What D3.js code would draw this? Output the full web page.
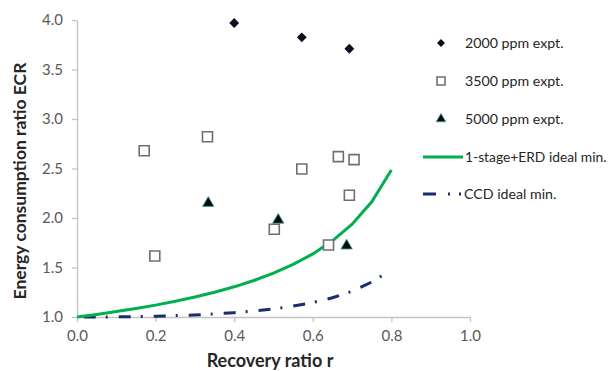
<!DOCTYPE html>
<html>
<head>
<meta charset="utf-8">
<script src="https://cdn.jsdelivr.net/npm/d3@7"></script>
<style>
  body { margin: 0; background: #fff; }
  svg { display: block; font-family: Lato, "Open Sans", sans-serif; }
</style>
</head>
<body>
<div id="chart"></div>
<script>
// experiments (recovery ratio r, ECR)
const r2000 = [0.40, 0.572, 0.693]
const ecr2000 = [3.97, 3.825, 3.71]
const r3500 = [0.171, 0.198, 0.332, 0.502, 0.572, 0.640, 0.665, 0.693, 0.705]
const ecr3500 = [2.68, 1.616, 2.82, 1.886, 2.495, 1.727, 2.62, 2.23, 2.59]
const r5000 = [0.334, 0.512, 0.686]
const ecr5000 = [2.15, 1.98, 1.72]

// ideal minimum curves
const rErd = [0, 0.05, 0.1, 0.15, 0.2, 0.25, 0.3, 0.35, 0.4, 0.45, 0.5, 0.55, 0.6, 0.65, 0.7, 0.75, 0.8]
const ecrErd = [1.0, 1.026, 1.055, 1.086, 1.120, 1.159, 1.202, 1.250, 1.305, 1.369, 1.443, 1.531, 1.637, 1.769, 1.938, 2.164, 2.485]
const rCcd = [0, 0.05, 0.1, 0.15, 0.2, 0.25, 0.3, 0.35, 0.4, 0.45, 0.5, 0.55, 0.6, 0.65, 0.7, 0.75, 0.775]
const ecrCcd = [1.0, 1.000, 1.002, 1.004, 1.008, 1.014, 1.021, 1.031, 1.044, 1.061, 1.082, 1.110, 1.146, 1.194, 1.260, 1.353, 1.414]

const xTicks = [0, 0.2, 0.4, 0.6, 0.8, 1.0]
const yTicks = [1.0, 1.5, 2.0, 2.5, 3.0, 3.5, 4.0]
const legendLabels = ['2000 ppm expt.', '3500 ppm expt.', '5000 ppm expt.', '1-stage+ERD ideal min.', 'CCD ideal min.']

const W = 610, H = 371
const svg = d3.select('#chart').append('svg').attr('width', W).attr('height', H)

const x = d3.scaleLinear().domain([0, 1]).range([77, 470])
const y = d3.scaleLinear().domain([1, 4]).range([317, 20])

const AXIS = '#c4c4c4'
const TICK_TXT = '#595959'
const GREEN = '#00b050'
const NAVY = '#1a2c6b'

// Axes
const gx = svg.append('g').attr('transform', `translate(0,${y(1)})`)
  .call(d3.axisBottom(x).tickValues(xTicks).tickFormat(d3.format('.1f')).tickSize(5).tickSizeOuter(0))
const gy = svg.append('g').attr('transform', `translate(${x(0)},0)`)
  .call(d3.axisLeft(y).tickValues(yTicks).tickFormat(d3.format('.1f')).tickSize(5).tickSizeOuter(0))
;[gx, gy].forEach(g => {
  g.select('.domain').attr('stroke', AXIS).attr('stroke-width', 1.3)
  g.selectAll('.tick line').attr('stroke', AXIS).attr('stroke-width', 1.3)
  g.selectAll('.tick text').attr('fill', TICK_TXT).attr('font-size', '15px').attr('font-family', 'Lato, sans-serif')
})
gx.selectAll('.tick text').attr('dy', '1.05em')
gy.selectAll('.tick text').attr('x', -14)

// Axis titles
svg.append('text').attr('x', 270).attr('y', 367).attr('text-anchor', 'middle')
  .attr('font-size', '18px').attr('font-weight', 'bold').attr('fill', '#262626').text('Recovery ratio r')
svg.append('text').attr('transform', 'translate(26,181) rotate(-90)').attr('text-anchor', 'middle')
  .attr('font-size', '17.5px').attr('font-weight', 'bold').attr('fill', '#262626').text('Energy consumption ratio ECR')

// Curves
const line = d3.line().x(d => x(d[0])).y(d => y(d[1]))
const ccd = svg.append('path').datum(d3.zip(rCcd, ecrCcd)).attr('d', line)
  .attr('fill', 'none').attr('stroke', NAVY).attr('stroke-width', 3).attr('stroke-dasharray', '12,10,2,11')
// shift the dash pattern so the line finishes on a dot, as in the original
const L = ccd.node().getTotalLength()
ccd.attr('stroke-dashoffset', ((24 - L) % 35 + 35) % 35)
svg.append('path').datum(d3.zip(rErd, ecrErd)).attr('d', line)
  .attr('fill', 'none').attr('stroke', GREEN).attr('stroke-width', 3)

// Markers
const diamond = d3.symbol(d3.symbolDiamond2, 62)
const square = d3.symbol(d3.symbolSquare, 100)
const triangle = d3.symbol(d3.symbolTriangle, 56)
const small = { d: d3.symbol(d3.symbolDiamond2, 40), s: d3.symbol(d3.symbolSquare, 64), t: d3.symbol(d3.symbolTriangle, 40) }

function drawSquare(g, path) {
  return g.append('path').attr('d', path).attr('fill', '#fff').attr('stroke', '#6f6f6f').attr('stroke-width', 1.6)
}
function drawDiamond(g, path) {
  return g.append('path').attr('d', path).attr('fill', '#0b0e1e')
}
function drawTriangle(g, path) {
  return g.append('path').attr('d', path).attr('fill', '#0a0a0a').attr('stroke', '#3ba3a3').attr('stroke-width', 0.8)
}

d3.zip(r3500, ecr3500).forEach(([r, e]) => {
  drawSquare(svg, square()).attr('transform', `translate(${x(r)},${y(e)})`)
})
d3.zip(r2000, ecr2000).forEach(([r, e]) => {
  drawDiamond(svg, diamond()).attr('transform', `translate(${x(r)},${y(e)})`)
})
d3.zip(r5000, ecr5000).forEach(([r, e]) => {
  drawTriangle(svg, triangle()).attr('transform', `translate(${x(r)},${y(e)})`)
})

// Legend
const legend = svg.append('g')
const rowsY = [43, 81, 119, 157, 194]
drawDiamond(legend, small.d()).attr('transform', `translate(441,${rowsY[0]})`)
drawSquare(legend, small.s()).attr('transform', `translate(441,${rowsY[1]})`)
drawTriangle(legend, small.t()).attr('transform', `translate(441,${rowsY[2]})`)
legend.append('line').attr('x1', 423).attr('x2', 463).attr('y1', rowsY[3]).attr('y2', rowsY[3])
  .attr('stroke', GREEN).attr('stroke-width', 3)
legend.append('line').attr('x1', 423).attr('x2', 463).attr('y1', rowsY[4]).attr('y2', rowsY[4])
  .attr('stroke', NAVY).attr('stroke-width', 3).attr('stroke-dasharray', '13,12,2,9,2,50')
legendLabels.forEach((lab, i) => {
  legend.append('text').attr('x', i === 4 ? 464 : 465).attr('y', rowsY[i]).attr('dy', '0.35em')
    .attr('font-size', i === 3 ? '13.8px' : '14.2px').attr('fill', '#262626').text(lab)
})
</script>
</body>
</html>
